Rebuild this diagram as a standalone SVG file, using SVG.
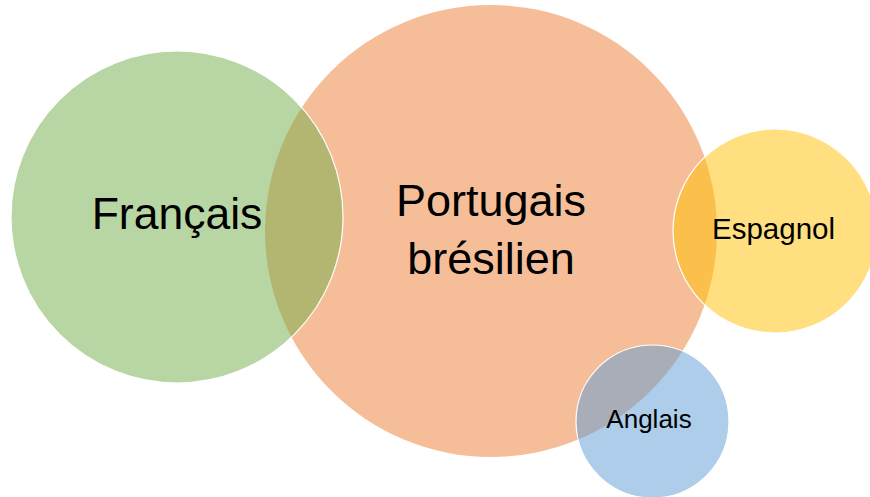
<svg xmlns="http://www.w3.org/2000/svg" width="870" height="497" viewBox="0 0 870 497">
<style>
.c{stroke:#fff;stroke-width:1.2;fill-opacity:0.5}
.t{font-family:"Liberation Sans",Arial,sans-serif;fill:#000;text-anchor:middle}
</style>
<rect width="870" height="497" fill="#fff"/>
<g id="portugais">
<circle cx="491" cy="231" r="226" fill="#ED7D31" fill-opacity="0.5"/>
<text class="t" x="491" y="216" font-size="45">Portugais</text>
<text class="t" x="491" y="274" font-size="45">brésilien</text>
</g>
<g id="francais">
<circle class="c" cx="177" cy="217" r="166" fill="#70AD47"/>
<text class="t" x="177" y="229" font-size="44.5">Français</text>
</g>
<g id="espagnol">
<circle class="c" cx="775" cy="231" r="102" fill="#FFC000"/>
<text class="t" x="773.5" y="239" font-size="29.5">Espagnol</text>
</g>
<g id="anglais">
<circle class="c" cx="652.5" cy="421.5" r="76.5" fill="#5B9BD5"/>
<text class="t" x="649" y="428" font-size="26">Anglais</text>
</g>
<g id="connectors"/>
</svg>
